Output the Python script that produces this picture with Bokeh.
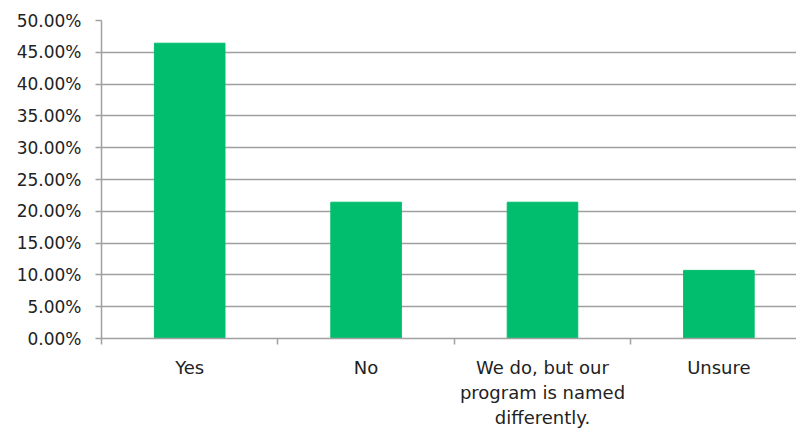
from bokeh.plotting import figure
from bokeh.models import Range1d, FixedTicker, NumeralTickFormatter, ColumnDataSource
from bokeh.embed import file_html
from bokeh.resources import INLINE

categories = ["Yes", "No", "We do, but our\nprogram is named\ndifferently.", "Unsure"]
values = [0.4643, 0.2143, 0.2143, 0.1071]
positions = [0.5, 1.5, 2.5, 3.5]
y_ticks = [0.0, 0.05, 0.10, 0.15, 0.20, 0.25, 0.30, 0.35, 0.40, 0.45, 0.50]

FONT = "DejaVu Sans"
GRAY = "#a0a0a0"

src = ColumnDataSource(dict(x=positions, top=values))

p = figure(width=796, height=430, output_backend="svg", toolbar_location=None,
           x_range=Range1d(0, 3.94), y_range=Range1d(0, 0.5),
           min_border_left=101, min_border_right=0, min_border_top=20, min_border_bottom=92)
p.outline_line_color = None
p.background_fill_color = "white"
p.border_fill_color = "white"

p.vbar(x="x", top="top", width=0.4, source=src, fill_color="#00be6e", line_color="#00be6e")

# Y axis
p.yaxis.ticker = FixedTicker(ticks=y_ticks)
p.yaxis.formatter = NumeralTickFormatter(format="0.00%")
p.yaxis.major_label_text_font = FONT
p.yaxis.major_label_text_font_size = "17px"
p.yaxis.major_label_text_color = "#222222"
p.yaxis.axis_line_color = GRAY
p.yaxis.axis_line_width = 1.5
p.yaxis.major_tick_line_color = GRAY
p.yaxis.major_tick_line_width = 1.5
p.yaxis.major_tick_out = 6
p.yaxis.major_tick_in = 0
p.yaxis.minor_tick_line_color = None
p.yaxis.major_label_standoff = 14

# X axis
p.xaxis.ticker = FixedTicker(ticks=positions, minor_ticks=[0, 1, 2, 3])
p.xaxis.major_label_overrides = {pos: lab for pos, lab in zip(positions, categories)}
p.xaxis.major_label_text_font = FONT
p.xaxis.major_label_text_font_size = "18px"
p.xaxis.major_label_text_color = "#222222"
p.xaxis.major_label_text_line_height = 1.2
p.xaxis.axis_line_color = GRAY
p.xaxis.axis_line_width = 1.5
p.xaxis.major_tick_out = 0
p.xaxis.major_tick_in = 0
p.xaxis.major_tick_line_color = None
p.xaxis.minor_tick_line_color = GRAY
p.xaxis.minor_tick_line_width = 1.5
p.xaxis.minor_tick_out = 6
p.xaxis.minor_tick_in = 0
p.xaxis.major_label_standoff = 12

p.xgrid.grid_line_color = None
p.ygrid.ticker = FixedTicker(ticks=y_ticks)
p.ygrid.grid_line_color = GRAY
p.ygrid.grid_line_width = 1.5

open("out.html", "w").write(file_html(p, INLINE))
